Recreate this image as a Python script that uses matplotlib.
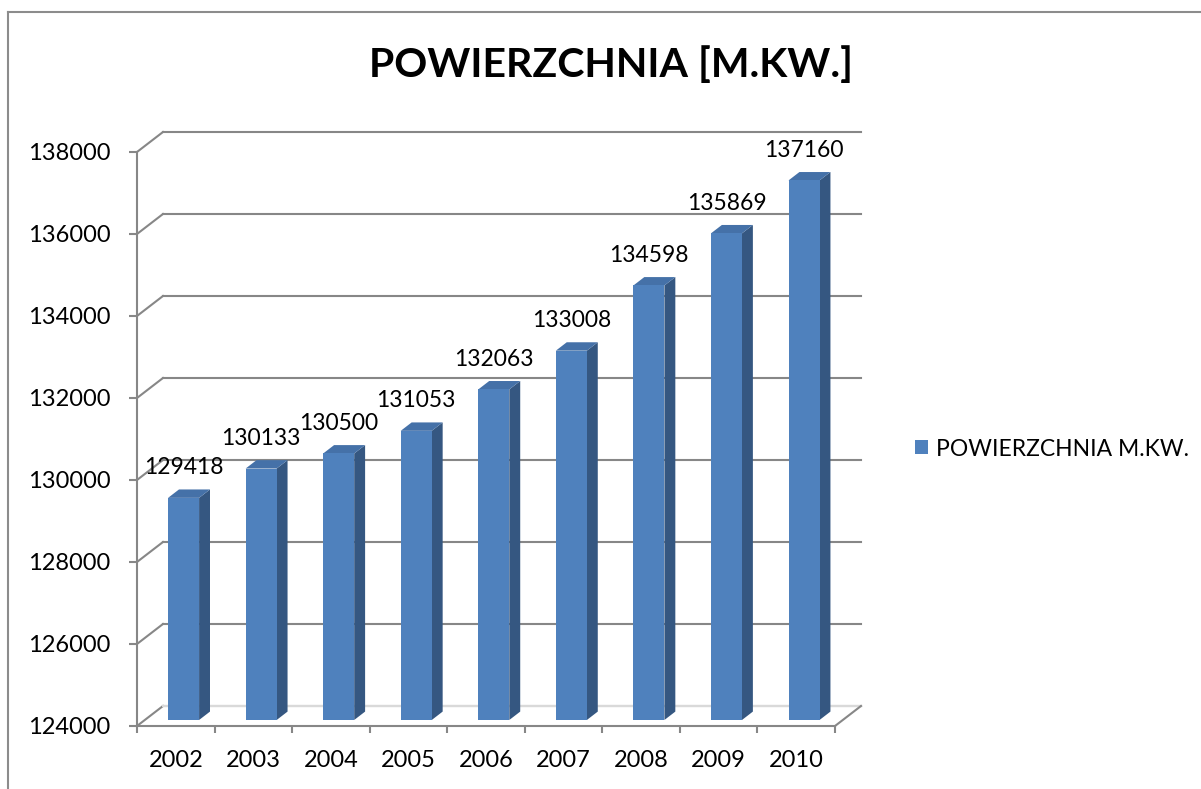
import matplotlib
matplotlib.use("Agg")
import matplotlib.pyplot as plt
from matplotlib.patches import Polygon, Patch
from matplotlib.lines import Line2D

# --- dane ---
lata = ["2002", "2003", "2004", "2005", "2006", "2007", "2008", "2009", "2010"]
powierzchnia = [129418, 130133, 130500, 131053, 132063, 133008, 134598, 135869, 137160]
y_ticks = [124000, 126000, 128000, 130000, 132000, 134000, 136000, 138000]
tytul = "POWIERZCHNIA [M.KW.]"
seria = "POWIERZCHNIA M.KW."

# --- wyglad 3D ---
y_min, y_max = 124000, 138000
dx = 0.335          # glebokosc sceny w jednostkach kategorii
dy = 488            # glebokosc sceny w jednostkach wartosci
f_front, f_depth = 0.30, 0.42
bar_w = 0.40

c_front = "#4F81BD"
c_side = "#355781"
c_top = "#4571A8"
c_grid = "#878787"

plt.rcParams["font.family"] = ["Lato", "DejaVu Sans"]

fig = plt.figure(figsize=(12.01, 7.89), dpi=100)
ax = fig.add_axes([137 / 1201, 63 / 789, 698 / 1201, 574 / 789])
ax.set_xlim(0, len(lata))
ax.set_ylim(y_min, y_max)

# sciana tylna i boczna
for v in y_ticks:
    ax.plot([dx, len(lata) + dx], [v + dy, v + dy], color=c_grid, lw=1.5,
            clip_on=False, zorder=1)
    ax.plot([0, dx], [v, v + dy], color=c_grid, lw=1.5, clip_on=False, zorder=1)
# podloga
ax.plot([dx, len(lata) + dx], [y_min + dy, y_min + dy], color="#D9D9D9", lw=1.5,
        clip_on=False, zorder=1.5)
ax.plot([len(lata), len(lata) + dx], [y_min, y_min + dy], color=c_grid, lw=1.5,
        clip_on=False, zorder=1.5)

# slupki
xs = [i + 0.5 + f_front * dx for i in range(len(lata))]
base = y_min + f_front * dy
heights = [v - y_min for v in powierzchnia]
ax.bar(xs, heights, width=bar_w, bottom=base, color=c_front, zorder=3,
       clip_on=False, label=seria)
ddx, ddy = f_depth * dx, f_depth * dy
for x, v in zip(xs, powierzchnia):
    xl, xr = x - bar_w / 2, x + bar_w / 2
    top = v + f_front * dy
    side = Polygon([(xr, base), (xr + ddx, base + ddy), (xr + ddx, top + ddy), (xr, top)],
                   closed=True, facecolor=c_side, edgecolor="none", zorder=2.9, clip_on=False)
    lid = Polygon([(xl, top), (xr, top), (xr + ddx, top + ddy), (xl + ddx, top + ddy)],
                  closed=True, facecolor=c_top, edgecolor="none", zorder=2.9, clip_on=False)
    ax.add_patch(side)
    ax.add_patch(lid)
    ax.annotate(str(v), (x, top + ddy), xytext=(0, 8), textcoords="offset points",
                ha="center", va="bottom", fontsize=16.5, zorder=5)

# osie
for s in ["top", "right"]:
    ax.spines[s].set_visible(False)
for s in ["left", "bottom"]:
    ax.spines[s].set_color(c_grid)
    ax.spines[s].set_linewidth(1.5)
    ax.spines[s].set_zorder(4)

ax.set_yticks(y_ticks)
ax.set_yticklabels([str(v) for v in y_ticks])
ax.set_xticks(range(len(lata) + 1))
ax.set_xticklabels([])
ax.set_xticks([i + 0.5 for i in range(len(lata))], minor=True)
ax.set_xticklabels(lata, minor=True)
ax.tick_params(axis="y", length=6, width=1.5, color=c_grid, labelsize=17, pad=13)
ax.tick_params(axis="x", which="major", length=5, width=1.5, color=c_grid)
ax.tick_params(axis="x", which="minor", length=0, labelsize=17, pad=17)

fig.text(611 / 1201, 1 - 65 / 789, tytul, ha="center", va="center",
         fontsize=29.5, fontweight="bold")

ax.legend(handles=[Patch(facecolor=c_front, label=seria)], loc="center left",
          bbox_to_anchor=(906 / 1201, 1 - 449 / 789), bbox_transform=fig.transFigure,
          frameon=False, fontsize=16.5, handlelength=0.55, handleheight=0.55,
          handletextpad=0.35, borderaxespad=0)

# ramka
fig.add_artist(Line2D([8 / 1201, 8 / 1201], [0, 1 - 12 / 789], color="#8C8C8C", lw=1.5))
fig.add_artist(Line2D([8 / 1201, 1], [1 - 12 / 789, 1 - 12 / 789], color="#8C8C8C", lw=1.5))

fig.savefig("out.png", dpi=100)
